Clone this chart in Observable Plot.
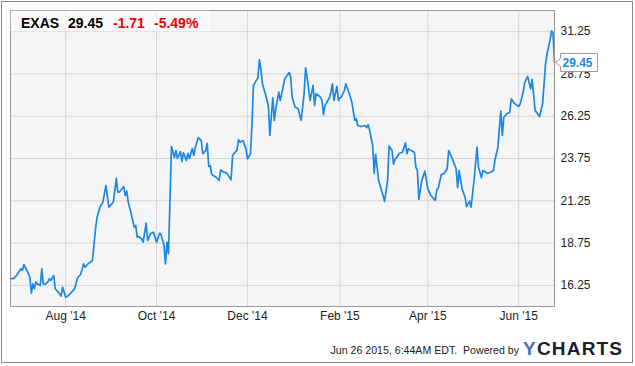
<!DOCTYPE html>
<html>
<head>
<meta charset="utf-8">
<script src="https://cdn.jsdelivr.net/npm/d3@7"></script>
<script src="https://cdn.jsdelivr.net/npm/@observablehq/plot@0.6"></script>
<style>
  body { margin: 0; background: #fff; }
  #chart { width: 635px; height: 366px; }
</style>
</head>
<body>
<div id="chart"></div>
<script>
// EXAS daily closing prices, one year
const dates = [
  "2014-06-25","2014-06-27","2014-06-29","2014-07-02","2014-07-03","2014-07-04","2014-07-06","2014-07-08",
  "2014-07-09","2014-07-10","2014-07-11","2014-07-12","2014-07-13","2014-07-15","2014-07-16","2014-07-17",
  "2014-07-18","2014-07-20","2014-07-21","2014-07-22","2014-07-24","2014-07-25","2014-07-27","2014-07-29",
  "2014-07-30","2014-08-01","2014-08-02","2014-08-04","2014-08-07","2014-08-09","2014-08-11","2014-08-12",
  "2014-08-13","2014-08-14","2014-08-16","2014-08-19","2014-08-21","2014-08-22","2014-08-24","2014-08-26",
  "2014-08-28","2014-08-30","2014-09-02","2014-09-04","2014-09-05","2014-09-06","2014-09-09","2014-09-10",
  "2014-09-11","2014-09-12","2014-09-14","2014-09-16","2014-09-17","2014-09-18","2014-09-19","2014-09-21",
  "2014-09-22","2014-09-24","2014-09-25","2014-09-27","2014-09-29","2014-10-01","2014-10-03","2014-10-04",
  "2014-10-06","2014-10-07","2014-10-08","2014-10-09","2014-10-11","2014-10-13","2014-10-14","2014-10-15",
  "2014-10-17","2014-10-18","2014-10-19","2014-10-21","2014-10-22","2014-10-23","2014-10-25","2014-10-26",
  "2014-10-27","2014-10-29","2014-10-31","2014-11-01","2014-11-03","2014-11-04","2014-11-05","2014-11-06",
  "2014-11-07","2014-11-10","2014-11-12","2014-11-13","2014-11-15","2014-11-17","2014-11-20","2014-11-21",
  "2014-11-24","2014-11-25","2014-11-26","2014-11-28","2014-11-30","2014-12-01","2014-12-03","2014-12-04",
  "2014-12-05","2014-12-08","2014-12-09","2014-12-10","2014-12-11","2014-12-13","2014-12-15","2014-12-16",
  "2014-12-18","2014-12-19","2014-12-20","2014-12-22","2014-12-23","2014-12-26","2014-12-29","2014-12-30",
  "2014-12-31","2015-01-02","2015-01-04","2015-01-06","2015-01-08","2015-01-09","2015-01-10","2015-01-12",
  "2015-01-14","2015-01-15","2015-01-16","2015-01-19","2015-01-20","2015-01-21","2015-01-22","2015-01-25",
  "2015-01-26","2015-01-27","2015-01-28","2015-01-30","2015-01-31","2015-02-01","2015-02-02","2015-02-04",
  "2015-02-05","2015-02-07","2015-02-09","2015-02-11","2015-02-12","2015-02-13","2015-02-15","2015-02-18",
  "2015-02-19","2015-02-20","2015-02-21","2015-02-23","2015-02-24","2015-02-25","2015-02-27","2015-03-01",
  "2015-03-03","2015-03-05","2015-03-06","2015-03-08","2015-03-09","2015-03-10","2015-03-13","2015-03-15",
  "2015-03-17","2015-03-18","2015-03-19","2015-03-22","2015-03-23","2015-03-24","2015-03-25","2015-03-26",
  "2015-03-28","2015-03-30","2015-04-01","2015-04-03","2015-04-06","2015-04-07","2015-04-08","2015-04-10",
  "2015-04-12","2015-04-14","2015-04-15","2015-04-17","2015-04-20","2015-04-21","2015-04-22","2015-04-24",
  "2015-04-26","2015-04-27","2015-04-29","2015-04-30","2015-05-02","2015-05-04","2015-05-05","2015-05-07",
  "2015-05-08","2015-05-11","2015-05-13","2015-05-15","2015-05-16","2015-05-18","2015-05-20","2015-05-21",
  "2015-05-22","2015-05-24","2015-05-26","2015-05-27","2015-05-29","2015-06-01","2015-06-02","2015-06-04",
  "2015-06-05","2015-06-07","2015-06-09","2015-06-10","2015-06-12","2015-06-15","2015-06-17","2015-06-18",
  "2015-06-19","2015-06-20","2015-06-22","2015-06-23","2015-06-24","2015-06-25"
];
const prices = [
  16.66,16.64,16.83,17.23,17.13,17.48,17.13,16.73,
  15.79,16.34,16.05,16.44,16.34,16.24,17.23,16.34,
  16.30,16.44,16.64,16.54,16.83,16.05,15.85,15.61,
  16.14,15.55,15.59,15.75,16.05,16.70,16.89,17.17,
  17.52,17.32,17.52,17.72,19.54,20.24,20.87,21.17,
  22.15,20.87,21.17,22.57,21.76,21.76,22.09,21.56,
  21.82,21.17,20.48,19.69,19.79,19.10,19.14,19.00,
  18.80,19.93,18.90,19.30,19.39,18.80,19.33,19.26,
  18.61,17.52,18.80,18.12,24.46,23.81,24.22,23.75,
  24.16,23.57,24.10,23.63,24.05,23.75,24.34,23.93,
  24.40,24.99,24.81,24.03,24.22,24.65,23.28,23.34,
  22.80,22.64,22.45,23.08,22.94,22.90,22.49,23.93,
  24.26,24.86,24.71,24.81,24.32,23.73,24.03,25.70,
  28.07,28.52,29.60,29.05,28.17,27.58,26.88,25.11,
  27.34,26.00,26.69,27.67,27.18,28.46,28.83,28.56,
  27.37,26.78,26.69,26.00,27.58,29.11,28.56,27.18,
  28.07,26.88,27.58,27.37,27.18,26.35,26.88,27.34,
  27.67,28.17,27.18,28.01,27.18,27.34,27.37,27.77,
  28.17,27.67,27.08,26.00,26.10,25.70,25.64,25.70,
  25.57,25.75,25.41,24.52,22.86,23.99,22.45,21.86,
  21.21,22.45,24.49,24.22,23.41,23.69,24.06,24.12,
  24.68,24.03,24.32,24.16,24.12,23.24,23.04,21.33,
  22.45,23.00,21.96,21.56,21.27,21.90,21.99,22.79,
  22.88,23.14,24.22,23.83,23.14,22.02,23.04,21.96,
  21.46,20.91,21.23,20.87,22.45,24.42,23.24,22.61,
  23.04,22.88,22.94,23.04,23.63,24.42,26.55,25.11,
  26.19,26.39,26.49,27.28,27.02,26.82,26.98,27.67,
  28.24,28.60,27.87,28.42,26.59,26.23,26.98,28.17,
  29.35,29.94,30.73,31.30,31.16,29.45
];

// Axis ticks
const yTicks = [16.25, 18.75, 21.25, 23.75, 26.25, 28.75, 31.25];
const xTickDates = ["2014-08-01", "2014-10-01", "2014-12-01", "2015-02-01", "2015-04-01", "2015-06-01"];

// Quote header and footer
const ticker = "EXAS";
const lastPrice = 29.45;
const change = "-1.71";
const changePct = "-5.49%";
const stamp = "Jun 26 2015, 6:44AM EDT.  Powered by";
const brandLead = "Y";
const brandRest = "CHARTS";

const FONT = "'Liberation Sans', Arial, Helvetica, sans-serif";
const BLUE = "#1a87e6";

const rows = dates.map((d, i) => ({date: new Date(d), price: prices[i]}));
const xTicks = xTickDates.map(d => new Date(d));

const plot = Plot.plot({
  width: 635,
  height: 366,
  marginLeft: 10,
  marginTop: 10,
  marginRight: 81,
  marginBottom: 60,
  style: {fontFamily: FONT, fontSize: "12px", color: "#222", background: "#fff"},
  x: {type: "utc", domain: [rows[0].date, rows[rows.length - 1].date], label: null},
  y: {domain: [15, 32.5], label: null},
  marks: [
    Plot.frame({fill: "#f5f5f5"}),
    Plot.gridX(xTicks, {stroke: "#d5d5d5", strokeOpacity: 1}),
    Plot.gridY(yTicks, {stroke: "#d5d5d5", strokeOpacity: 1}),
    Plot.axisX(xTicks, {tickSize: 0, tickPadding: 5, tickFormat: d3.utcFormat("%b '%y"), fill: "#222"}),
    Plot.axisY(yTicks, {anchor: "right", tickSize: 0, tickPadding: 6, tickFormat: d => d.toFixed(2), fill: "#222"}),
    Plot.lineY(rows, {x: "date", y: "price", stroke: BLUE, strokeWidth: 1.7, strokeLinejoin: "round"}),
    Plot.frame({stroke: "#999"})
  ]
});

document.getElementById("chart").append(plot);

const svg = d3.select(plot);
const sx = plot.scale("x"), sy = plot.scale("y");

// Outer border of the whole graphic
svg.append("rect")
  .attr("x", 1.5).attr("y", 1.5).attr("width", 631).attr("height", 361)
  .attr("fill", "none").attr("stroke", "#888");

// Quote header band
svg.append("rect")
  .attr("x", 10.5).attr("y", 10.5).attr("width", 198.5).attr("height", 21)
  .attr("fill", "#fff").attr("fill-opacity", 0.5);
const head = svg.append("g")
  .attr("font-family", FONT).attr("font-size", 14).attr("font-weight", "bold")
  .attr("text-anchor", "start");
head.append("text").attr("x", 21).attr("y", 28.3).attr("fill", "#000").text(ticker);
head.append("text").attr("x", 68).attr("y", 28.3).attr("fill", "#000").text(lastPrice.toFixed(2));
head.append("text").attr("x", 113).attr("y", 28.3).attr("fill", "#ee0000").text(change);
head.append("text").attr("x", 154).attr("y", 28.3).attr("fill", "#ee0000").text(changePct);

// Last-price callout at the end of the line
const lx = sx.apply(rows[rows.length - 1].date);
const ly = sy.apply(lastPrice);
const bx = Math.round(lx) + 6.5, bw = 37, bh = 18;
const cy = Math.round(ly) + 0.5, boxTop = cy - bh / 2, boxBottom = cy + bh / 2;
svg.append("path")
  .attr("d", `M${bx - 5},${cy} L${bx},${cy - 4} V${boxTop} H${bx + bw} V${boxBottom} H${bx} V${cy + 4} Z`)
  .attr("fill", "#fff").attr("stroke", "#999");
svg.append("text")
  .attr("x", bx + 2).attr("y", cy + 4.5).attr("text-anchor", "start")
  .attr("font-family", FONT).attr("font-size", 12).attr("font-weight", "bold")
  .attr("fill", BLUE).text(lastPrice.toFixed(2));

// Footer: timestamp and brand
svg.append("text")
  .attr("x", 519).attr("y", 354).attr("text-anchor", "end")
  .attr("font-family", FONT).attr("font-size", 10.6).attr("fill", "#222")
  .style("white-space", "pre").text(stamp);
const brand = svg.append("text")
  .attr("x", 523).attr("y", 355).attr("text-anchor", "start")
  .attr("font-family", FONT).attr("font-size", 19).attr("font-weight", "bold")
  .attr("letter-spacing", 1.2);
brand.append("tspan").attr("fill", "#4d73b3").text(brandLead);
brand.append("tspan").attr("fill", "#1c2030").text(brandRest);
</script>
</body>
</html>
